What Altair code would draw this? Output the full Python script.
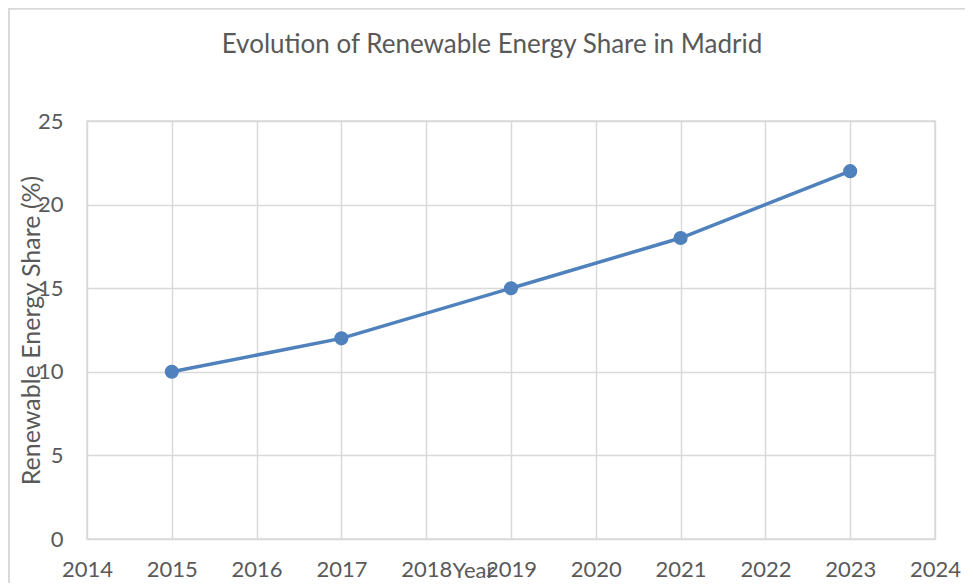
import altair as alt
import pandas as pd

years = [2015, 2017, 2019, 2021, 2023]
shares = [10, 12, 15, 18, 22]
x_ticks = list(range(2014, 2025))
y_ticks = [0, 5, 10, 15, 20, 25]

df = pd.DataFrame({"Year": years, "Share": shares})

FONT = "Lato"
GREY = "#595959"
GRID = "#d9d9d9"
BLUE = "#4F81BD"

W, H = 848, 418

x = alt.X("Year:Q",
          scale=alt.Scale(domain=[2014, 2024], nice=False, zero=False),
          axis=alt.Axis(values=x_ticks, format="d", title="Year",
                        titleX=386, titleY=31, titleBaseline="middle",
                        titleAlign="center", titleAngle=0,
                        labelPadding=20, labelBaseline="top",
                        labelFlush=False, labelOverlap=False))
y = alt.Y("Share:Q",
          scale=alt.Scale(domain=[0, 25], nice=False),
          axis=alt.Axis(values=y_ticks, title="Renewable Energy Share (%)",
                        titleX=-56, titleY=H / 2, titleBaseline="middle",
                        titleAlign="center", titleAngle=-90, titleFontSize=25,
                        labelPadding=24))

line = alt.Chart(df).mark_line(color=BLUE, strokeWidth=3.5).encode(x=x, y=y)
pts = alt.Chart(df).mark_circle(color=BLUE, size=200, opacity=1).encode(x=x, y=y)

frame_top = alt.Chart(df).mark_rule(color=GRID, strokeWidth=1.5).encode(
    x=alt.value(-78), x2=alt.value(1000), y=alt.value(-112.5))
frame_left = alt.Chart(df).mark_rule(color=GRID, strokeWidth=1.5).encode(
    x=alt.value(-78), y=alt.value(-113), y2=alt.value(700))

chart = alt.layer(frame_top, frame_left, line, pts).properties(
    width=W, height=H,
    title=alt.TitleParams("Evolution of Renewable Energy Share in Madrid",
                          font=FONT, fontSize=26, fontWeight="normal",
                          color=GREY, anchor="middle", dx=-19, offset=0, dy=77,
                          baseline="bottom"),
    autosize=alt.AutoSizeParams(type="none"),
    padding={"left": 79, "top": 113, "right": 30, "bottom": 44},
).configure_axis(
    labelFont=FONT, labelFontSize=22, labelColor=GREY,
    titleFont=FONT, titleFontSize=22, titleColor=GREY, titleFontWeight="normal",
    grid=True, gridColor=GRID, gridWidth=1.5, domain=False, ticks=False,
).configure_view(stroke=GRID, strokeWidth=1.5)

chart.save("out.html", embed_options={"renderer": "svg", "actions": False})
